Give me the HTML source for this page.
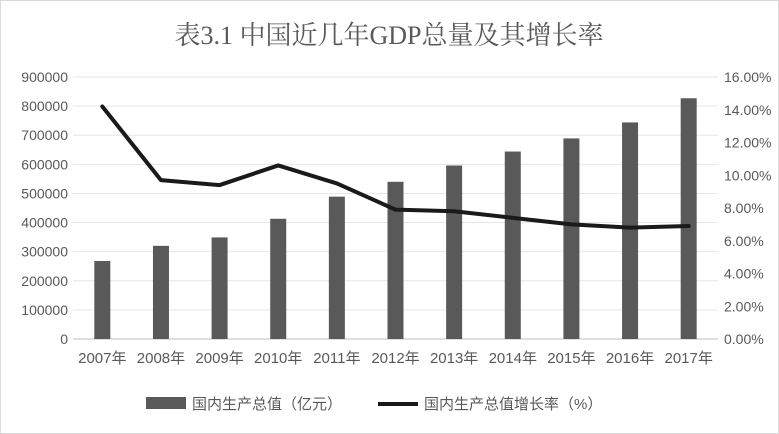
<!DOCTYPE html>
<html><head><meta charset="utf-8"><style>
body{margin:0;background:#fff}
svg{display:block;font-family:"Liberation Sans","Noto Sans CJK SC",sans-serif}
</style></head><body>
<svg width="779" height="434" viewBox="0 0 779 434">
<rect x="0.5" y="0.5" width="778" height="433" fill="#fff" stroke="#d9d9d9"/>
<text x="389" y="44" text-anchor="middle" font-size="26" fill="#595959" font-family="'Liberation Serif','Noto Serif CJK SC',serif">表3.1 中国近几年GDP总量及其增长率</text>
<g id="grid"></g><g id="bars"></g><g id="line"></g><g id="axes"></g>
<g>
<rect x="146" y="397" width="40" height="12" fill="#595959"/>
<text x="192" y="409" font-size="15" fill="#595959">国内生产总值（亿元）</text>
<line x1="378" y1="404" x2="418" y2="404" stroke="#1a1a1a" stroke-width="4"/>
<text x="424" y="409" font-size="15" fill="#595959">国内生产总值增长率（%）</text>
</g>
</svg>
<script>
const categories=["2007年","2008年","2009年","2010年","2011年","2012年","2013年","2014年","2015年","2016年","2017年"];
const gdpValues=[268000,320000,349000,413000,489000,540000,596000,644000,689000,744000,827000];
const growthValues=[14.2,9.7,9.4,10.6,9.5,7.9,7.8,7.4,7.0,6.8,6.9];
const leftTicks=[0,100000,200000,300000,400000,500000,600000,700000,800000,900000];
const rightTicks=[0,2,4,6,8,10,12,14,16];
const NS="http://www.w3.org/2000/svg";
const X0=73,X1=718,Y0=339,Y1=77;
const bw=(X1-X0)/categories.length;
const xC=i=>X0+bw*(i+0.5);
const yL=v=>Y0-(v/900000)*(Y0-Y1);
const yR=v=>Y0-(v/16)*(Y0-Y1);
function mk(t,a,p){const e=document.createElementNS(NS,t);for(const k in a)e.setAttribute(k,a[k]);p.appendChild(e);return e;}
const grid=document.getElementById('grid'),bars=document.getElementById('bars'),line=document.getElementById('line'),axes=document.getElementById('axes');
leftTicks.forEach(v=>{
 const g=mk('line',{x1:X0,x2:X1,y1:yL(v),y2:yL(v),stroke:v===0?'#bfbfbf':'#e6e6e6'},grid);
 
 
 const t=mk('text',{x:68,y:yL(v)+5,'text-anchor':'end','font-size':14,fill:'#595959'},axes);
 t.textContent=v;
 
 
});
rightTicks.forEach(v=>{
 const t=mk('text',{x:724,y:yR(v)+5,'font-size':14,fill:'#595959'},axes);
 t.textContent=v.toFixed(2)+'%';
 
 
});
categories.forEach((c,i)=>{
 const b=mk('rect',{x:xC(i)-8,y:yL(gdpValues[i]),width:16,height:Y0-yL(gdpValues[i]),fill:'#595959'},bars);
 
 
 const t=mk('text',{x:xC(i),y:363,'text-anchor':'middle','font-size':15,fill:'#595959'},axes);
 t.textContent=c;
 
 
});
const p=mk('polyline',{points:growthValues.map((v,i)=>xC(i)+','+yR(v)).join(' '),fill:'none',stroke:'#1a1a1a','stroke-width':4,'stroke-linejoin':'round','stroke-linecap':'round'},line);


</script>
</body></html>
